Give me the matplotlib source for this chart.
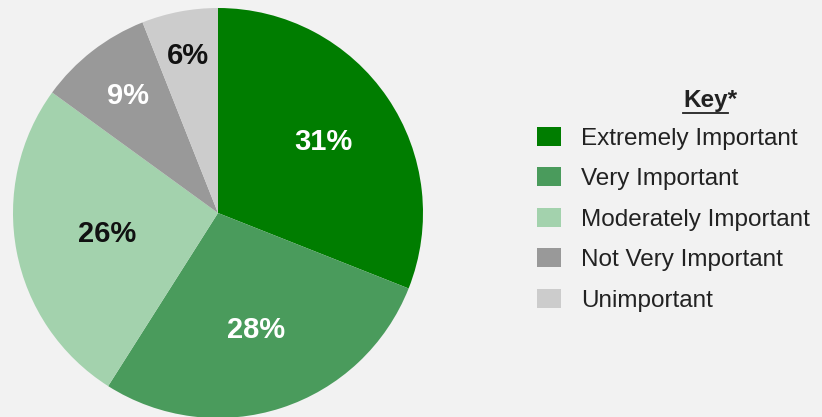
import numpy as np
import matplotlib.pyplot as plt
from matplotlib.patches import Patch
from matplotlib.lines import Line2D

categories = ["Extremely Important", "Very Important", "Moderately Important",
              "Not Very Important", "Unimportant"]
shares = [31, 28, 26, 9, 6]

colors = ["#007d00", "#4a9b5c", "#a3d2ad", "#999999", "#cccccc"]
label_colors = ["white", "white", "#111111", "white", "#111111"]
label_dist = [0.62, 0.60, 0.55, 0.72, 0.78]  # radial position of each % label

plt.rcParams['font.family'] = ['Liberation Sans', 'DejaVu Sans']

fig = plt.figure(figsize=(8.22, 4.17), dpi=100, facecolor="#f2f2f2")

# pie
ax = fig.add_axes([13/822, -1/417, 410/822, 410/417])
ax.set_facecolor("#f2f2f2")
wedges, _ = ax.pie(shares, colors=colors, startangle=90, counterclock=False,
                   wedgeprops=dict(linewidth=0))
for w, v, c, r in zip(wedges, shares, label_colors, label_dist):
    th = np.deg2rad((w.theta1 + w.theta2) / 2)
    ax.text(r*np.cos(th), r*np.sin(th), "%d%%" % v, ha="center", va="center",
            fontsize=21, fontweight="bold", color=c)
ax.set_xlim(-1, 1)
ax.set_ylim(-1, 1)
ax.set_aspect("equal")

# legend
handles = [Patch(facecolor=c, edgecolor="none") for c in colors]
fig.legend(handles, categories, loc="upper left", bbox_to_anchor=(537/822, 1 - 127/417),
           frameon=False, fontsize=17.5, borderpad=0, borderaxespad=0,
           handlelength=0.97, handleheight=0.8, handletextpad=0.86, labelspacing=0.73,
           labelcolor="#222222")

t = fig.text(710/822, 1 - 100/417, "Key*", ha="center", va="center",
             fontsize=17.5, fontweight="bold", color="#222222")
fig.canvas.draw()
bb = t.get_window_extent()
tmp = fig.text(0, 0, "Key", fontsize=17.5, fontweight="bold")
kw = tmp.get_window_extent(fig.canvas.get_renderer()).width
tmp.remove()
fig.add_artist(Line2D([bb.x0/822, (bb.x0 + kw)/822], [(bb.y0 - 1)/417]*2,
                      color="#222222", linewidth=1.3))

fig.savefig("out.png", dpi=100, facecolor="#f2f2f2")
